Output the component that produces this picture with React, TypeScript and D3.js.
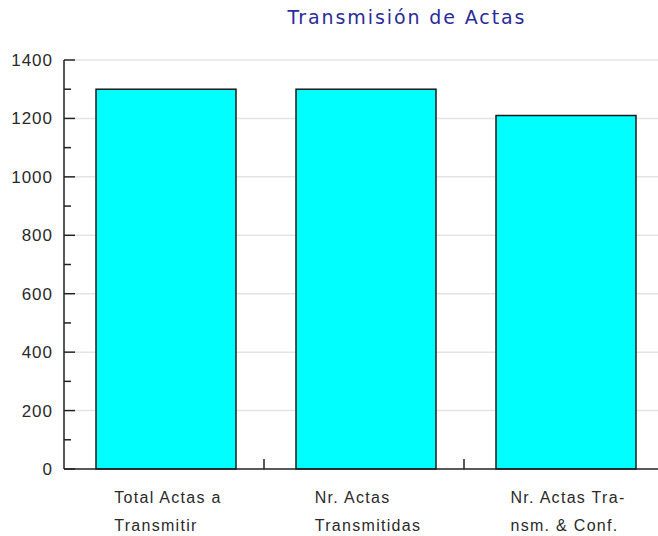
import React, { useLayoutEffect, useRef, useState } from "react";
import * as d3 from "d3";

const categories = ["Total Actas a Transmitir", "Nr. Actas Transmitidas", "Nr. Actas Transm. & Conf."];
const categoryLines = [
  ["Total Actas a", "Transmitir"],
  ["Nr. Actas", "Transmitidas"],
  ["Nr. Actas Tra-", "nsm. & Conf."],
];
const values = [1300, 1300, 1210];
const yMajorTicks = [0, 200, 400, 600, 800, 1000, 1200, 1400];
const yMinorTicks = [100, 300, 500, 700, 900, 1100, 1300];
const title = "Transmisión de Actas";

const W = 658;
const H = 536;
const LEFT = 64;
const TOP = 60;
const BOTTOM = 469;

export default function App() {
  const x = d3.scaleBand<string>().domain(categories).range([LEFT, LEFT + 600]).padding(0);
  const y = d3.scaleLinear().domain([0, 1400]).range([BOTTOM, TOP]);
  const bw = x.bandwidth();
  const labelRefs = useRef<(SVGTextElement | null)[]>([]);
  const [blockW, setBlockW] = useState<number[]>([111, 111, 111]);

  useLayoutEffect(() => {
    const ws = labelRefs.current.map((el) => (el ? el.getBBox().width : 111));
    setBlockW(ws);
  }, []);

  const font = "'Liberation Sans', Arial, sans-serif";

  return (
    <svg width={W} height={H} style={{ position: "absolute", left: 0, top: 0, background: "#fff" }}>
      <text
        x={407}
        y={24}
        textAnchor="middle"
        fill="#2b2b99"
        style={{ fontFamily: "'DejaVu Sans', Verdana, sans-serif", fontSize: 19, letterSpacing: 1.9 }}
      >
        {title}
      </text>
      {/* grid */}
      {yMajorTicks.filter((t) => t > 0).map((t) => (
        <line key={"g" + t} x1={LEFT + 11} x2={W} y1={y(t)} y2={y(t)} stroke="#e4e4e4" strokeWidth={1.5} />
      ))}
      {/* bars */}
      {categories.map((c, i) => (
        <rect
          key={c}
          x={(x(c) as number) + bw * 0.16}
          y={y(values[i])}
          width={bw * 0.7}
          height={y(0) - y(values[i])}
          fill="#00ffff"
          stroke="#1a1a1a"
          strokeWidth={1.5}
        />
      ))}
      {/* axes */}
      <line x1={LEFT} x2={LEFT} y1={TOP} y2={BOTTOM} stroke="#222" strokeWidth={1.5} />
      <line x1={LEFT} x2={W} y1={BOTTOM} y2={BOTTOM} stroke="#222" strokeWidth={1.5} />
      {yMajorTicks.map((t) => (
        <g key={"t" + t}>
          <line x1={LEFT} x2={LEFT + 11} y1={y(t)} y2={y(t)} stroke="#222" strokeWidth={1.5} />
          <text
            x={53}
            y={y(t) + 6}
            textAnchor="end"
            fill="#2a2a2a"
            style={{ fontFamily: font, fontSize: 17, letterSpacing: 1 }}
          >
            {t}
          </text>
        </g>
      ))}
      {yMinorTicks.map((t) => (
        <line key={"m" + t} x1={LEFT} x2={LEFT + 7} y1={y(t)} y2={y(t)} stroke="#222" strokeWidth={1.5} />
      ))}
      {categories.slice(1).map((c) => (
        <line key={"xt" + c} x1={x(c) as number} x2={x(c) as number} y1={BOTTOM} y2={BOTTOM - 10} stroke="#222" strokeWidth={1.5} />
      ))}
      {categories.map((c, i) => {
        const cx = (x(c) as number) + bw / 2 + 4;
        const x0 = cx - blockW[i] / 2;
        return (
          <text
            key={"xl" + c}
            ref={(el) => {
              labelRefs.current[i] = el;
            }}
            fill="#2a2a2a"
            style={{ fontFamily: font, fontSize: 16, letterSpacing: 1.3 }}
          >
            {categoryLines[i].map((ln, j) => (
              <tspan key={j} x={x0} y={503 + j * 28}>
                {ln}
              </tspan>
            ))}
          </text>
        );
      })}
    </svg>
  );
}
